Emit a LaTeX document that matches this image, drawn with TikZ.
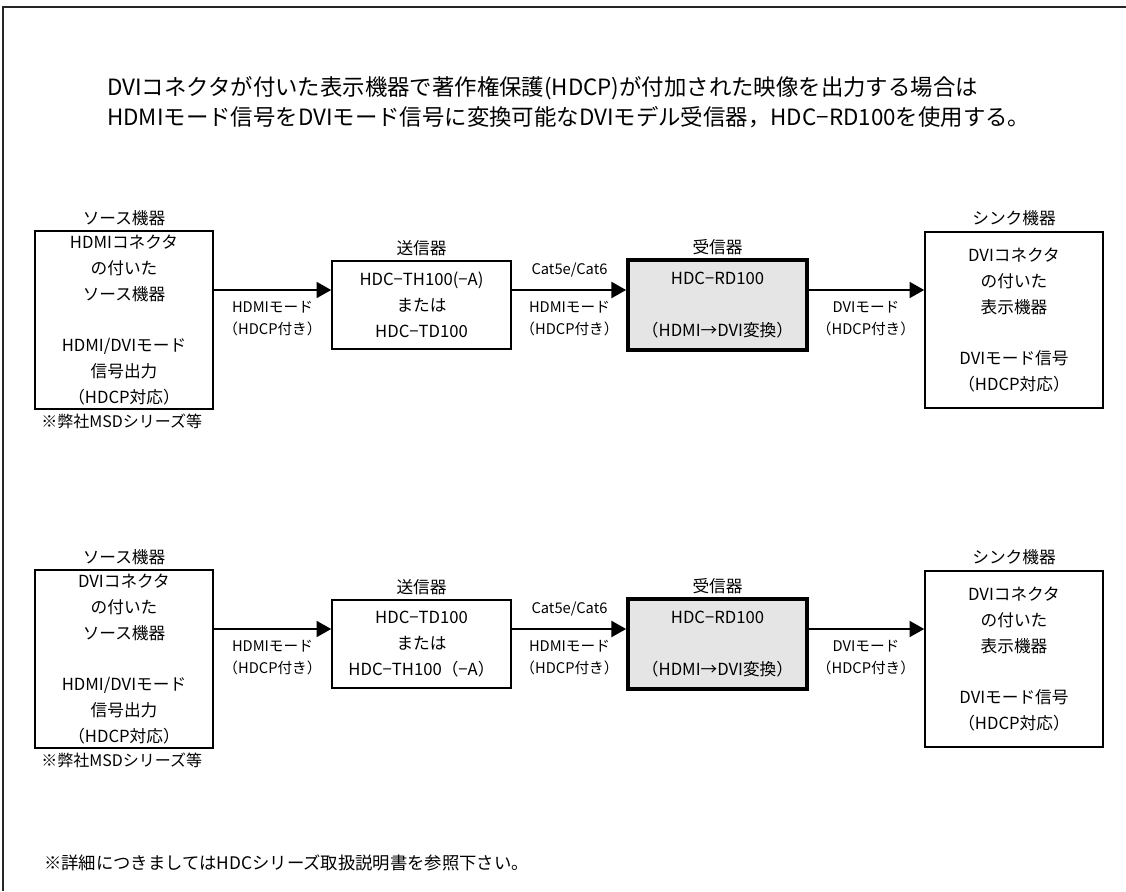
\documentclass[tikz,border=0pt]{standalone}
\usepackage{fontspec}
\setmainfont{Noto Sans CJK JP}
\usetikzlibrary{arrows.meta}
\tikzset{
  box/.style={draw=black, line width=1.2pt, fill=white, align=center, inner sep=0pt,
    font=\fontsize{12.5}{19.3}\selectfont},
  rxbox/.style={box, line width=2.8pt, fill=black!10},
  boxcap/.style={font=\fontsize{12.5}{14}\selectfont, inner sep=0pt},
  lbl/.style={font=\fontsize{11}{16.5}\selectfont, align=center, inner sep=0pt},
  arr/.style={line width=1.5pt, -{Triangle[length=11pt,width=12pt]}},
  titletext/.style={font=\fontsize{16.8}{20}\selectfont, anchor=west, inner sep=0pt},
  outerframe/.style={line width=1.2pt, draw=black!85}
}
\begin{document}
\begin{tikzpicture}[x=0.75pt, y=-0.75pt]
\useasboundingbox (0,0) rectangle (1126,891);
\draw[outerframe] (1126,7) -- (3,7) -- (3,891);
\node[titletext] (t1) at (107,88) {DVIコネクタが付いた表示機器で著作権保護(HDCP)が付加された映像を出力する場合は};
\node[titletext] (t2) at (107,117) {HDMIモード信号をDVIモード信号に変換可能なDVIモデル受信器，HDC−RD100を使用する。};
\node[titletext, font=\fontsize{13}{16}\selectfont] (foot) at (44,863) {※詳細につきましてはHDCシリーズ取扱説明書を参照下さい。};
\foreach \off/\n/\srcA/\txA/\txC in {0/a/HDMI/{HDC−TH100(−A)}/{HDC−TD100}, 339/b/DVI/{HDC−TD100}/{HDC−TH100（−A）}}{
  \begin{scope}[yshift=-\off*0.75pt]
  \coordinate (row\n) at (0,290);
  \node[box, minimum width=133.5pt, minimum height=133.5pt] (src\n) at (124,320)
    {\srcA コネクタ\\の付いた\\ソース機器\\[19.3pt]HDMI/DVIモード\\信号出力\\（HDCP対応）};
  \node[boxcap] (srccap\n) at (124,218) {ソース機器};
  \node[boxcap, anchor=west, font=\fontsize{12}{14}\selectfont] (note\n) at (41,421) {※弊社MSDシリーズ等};
  \node[box, minimum width=134.25pt, minimum height=66pt] (tx\n) at (421.5,305)
    {\txA\\または\\\txC};
  \node[boxcap] (txcap\n) at (421.5,248) {送信器};
  \node[rxbox, minimum width=134.25pt, minimum height=67.5pt] (rx\n) at (717.5,305)
    {HDC−RD100\\[19.3pt]（HDMI→DVI変換）};
  \node[boxcap] (rxcap\n) at (717.5,247) {受信器};
  \node[box, minimum width=133.5pt, minimum height=132pt] (snk\n) at (1014,320)
    {DVIコネクタ\\の付いた\\表示機器\\[19.3pt]DVIモード信号\\（HDCP対応）};
  \node[boxcap] (snkcap\n) at (1014,218) {シンク機器};
  \draw[arr] (src\n.east |- row\n) -- (tx\n.west |- row\n);
  \draw[arr] (tx\n.east |- row\n) -- (rx\n.west |- row\n);
  \draw[arr] (rx\n.east |- row\n) -- (snk\n.west |- row\n);
  \node[lbl] (l1\n) at (272.5,319) {HDMIモード\\（HDCP付き）};
  \node[lbl] (cat\n) at (569.5,270) {Cat5e/Cat6};
  \node[lbl] (l2\n) at (569.5,319) {HDMIモード\\（HDCP付き）};
  \node[lbl] (l3\n) at (866,319) {DVIモード\\（HDCP付き）};
  \end{scope}
}
\end{tikzpicture}
\end{document}
